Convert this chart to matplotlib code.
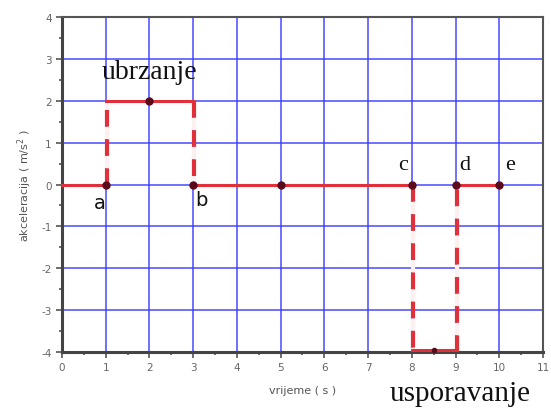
import numpy as np
import matplotlib.pyplot as plt
from matplotlib.ticker import MultipleLocator

plt.rcParams['axes.unicode_minus'] = False

# acceleration vs time, piecewise constant
t_solid = [[0, 1], [1, 3], [3, 8], [8, 9], [9, 10]]
a_solid = [0, 2, 0, -4, 0]
t_jump = [1, 3, 8, 9]
a_jump = [[0, 2], [2, 0], [0, -4], [-4, 0]]
t_pts = [1, 2, 3, 5, 8, 9, 10]
a_pts = [0, 2, 0, 0, 0, 0, 0]
letters = ['a', 'b', 'c', 'd', 'e']
letter_x = [0.87, 3.2, 7.8, 9.22, 10.25]
letter_y = [-0.42, -0.36, 0.49, 0.49, 0.49]
letter_font = ['DejaVu Sans', 'DejaVu Sans', 'Liberation Serif',
               'Liberation Serif', 'Liberation Serif']

fig = plt.figure(figsize=(5.51, 4.10), dpi=100)
ax = fig.add_axes([0.1125, 0.139, 0.873, 0.817])

ax.set_xlim(0, 11)
ax.set_ylim(-4, 4)
ax.xaxis.set_major_locator(MultipleLocator(1))
ax.yaxis.set_major_locator(MultipleLocator(1))
ax.xaxis.set_minor_locator(MultipleLocator(0.5))
ax.yaxis.set_minor_locator(MultipleLocator(0.5))
ax.grid(True, which='major', color='#3a3aff', lw=1.2, alpha=0.85)
ax.set_axisbelow(True)

red = '#e0303a'
for ts, a in zip(t_solid, a_solid):
    y = a + 0.05 if a == -4 else a
    ax.plot(ts, [y, y], color=red, lw=2.2, zorder=5, clip_on=False)
for t, ys in zip(t_jump, a_jump):
    ax.plot([t + 0.03, t + 0.03], ys, color=red, lw=3, ls=(0, (4, 3)),
            gapcolor='#fdf0f0', zorder=3)
ax.plot(t_pts, a_pts, 'o', color='#5a0a1a', ms=5, ls='none', zorder=6)
ax.plot([8.5], [-3.95], 'o', color='#5a0a1a', ms=3, zorder=6, clip_on=False)

for s, x, y, f in zip(letters, letter_x, letter_y, letter_font):
    fs = 14 if f == 'DejaVu Sans' else 16
    ax.text(x, y, s, ha='center', va='center', fontsize=fs,
            family=f, color='#111111')
ax.text(1.99, 2.71, 'ubrzanje', ha='center', va='center', fontsize=20,
        family='Liberation Serif', color='#111111')
ax.text(9.1, -4.98, 'usporavanje', ha='center', va='center', fontsize=21,
        family='Liberation Serif', color='#111111', clip_on=False)

for side in ['left', 'bottom']:
    ax.spines[side].set_linewidth(2.2)
    ax.spines[side].set_color('#444444')
for side in ['top', 'right']:
    ax.spines[side].set_linewidth(1.5)
    ax.spines[side].set_color('#555555')

ax.tick_params(which='both', direction='out', colors='#555555', labelsize=7.5,
               labelcolor='#666666', width=1.2)
ax.tick_params(which='major', length=4)
ax.tick_params(which='minor', length=2.5)

ax.set_xlabel('vrijeme ( s )', fontsize=8, color='#555555', labelpad=9)
ax.set_ylabel('akceleracija ( m/s$^2$ )', fontsize=8, color='#555555', labelpad=5)

fig.savefig('out.png', dpi=100)
